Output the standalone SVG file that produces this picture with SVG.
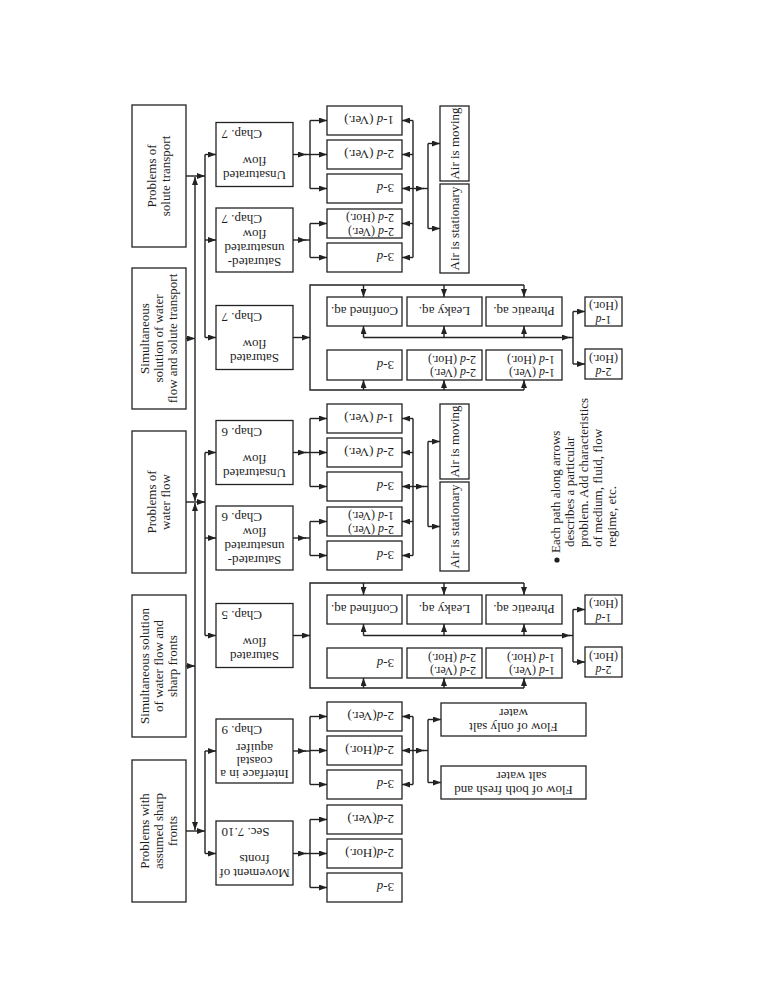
<svg xmlns="http://www.w3.org/2000/svg" width="772" height="1000" viewBox="0 0 772 1000">
<style>
.b{fill:#fff;stroke:#222;stroke-width:1.3}
.l{fill:none;stroke:#222;stroke-width:1.4}
.a{marker-end:url(#ah)}
text{font-family:"Liberation Serif","Times New Roman",serif;font-size:13px;fill:#1e1e1e}
.s{font-size:12px}
.m{text-anchor:middle}
.e{text-anchor:end}
.i{font-style:italic}
</style>
<defs>
<marker id="ah" viewBox="0 0 8 6" refX="8" refY="3" markerWidth="8" markerHeight="6" markerUnits="userSpaceOnUse" orient="auto"><path d="M0,0 L8,3 L0,6 z" fill="#222"/></marker>
</defs>
<rect x="0" y="0" width="772" height="1000" fill="#fff"/>

<!-- Top-level nodes -->
<g id="n-solute"><rect class="b" x="132" y="105" width="54" height="142"/><g transform="translate(159,176) rotate(-90)"><text class="m" y="-3">Problems of</text><text class="m" y="11">solute transport</text></g></g>
<g id="n-sim-ws"><rect class="b" x="132" y="268" width="54" height="141"/><g transform="translate(159,338.5) rotate(-90)"><text class="m" y="-10.5">Simultaneous</text><text class="m" y="3.5">solution of water</text><text class="m" y="17.5">flow and solute transport</text></g></g>
<g id="n-water"><rect class="b" x="132" y="431" width="54" height="142"/><g transform="translate(159,502) rotate(-90)"><text class="m" y="-3">Problems of</text><text class="m" y="11">water flow</text></g></g>
<g id="n-sim-wf"><rect class="b" x="132" y="595" width="54" height="142"/><g transform="translate(159,666) rotate(-90)"><text class="m" y="-10.5">Simultaneous solution</text><text class="m" y="3.5">of water flow and</text><text class="m" y="17.5">sharp fronts</text></g></g>
<g id="n-sharp"><rect class="b" x="132" y="760" width="54" height="142"/><g transform="translate(159,831) rotate(-90)"><text class="m" y="-10.5">Problems with</text><text class="m" y="3.5">assumed sharp</text><text class="m" y="17.5">fronts</text></g></g>

<!-- Second-level nodes -->
<g id="n-s-unsat"><rect class="b" x="216" y="122.5" width="77" height="64"/><g transform="translate(254.5,154.5) rotate(180)"><text class="m" y="-16">Unsaturated</text><text class="m" y="-2">flow</text><text class="e" x="33" y="25">Chap. 7</text></g></g>
<g id="n-s-satunsat"><rect class="b" x="216" y="208" width="77" height="64"/><g transform="translate(254.5,240) rotate(180)"><text class="m" y="-18">Saturated-</text><text class="m" y="-4">unsaturated</text><text class="m" y="10">flow</text><text class="e" x="33" y="25.5">Chap. 7</text></g></g>
<g id="n-s-sat"><rect class="b" x="216" y="305.5" width="77" height="64"/><g transform="translate(254.5,337.5) rotate(180)"><text class="m" y="-16">Saturated</text><text class="m" y="-2">flow</text><text class="e" x="33" y="25">Chap. 7</text></g></g>
<g id="n-w-unsat"><rect class="b" x="216" y="420.5" width="77" height="64"/><g transform="translate(254.5,452.5) rotate(180)"><text class="m" y="-16">Unsaturated</text><text class="m" y="-2">flow</text><text class="e" x="33" y="25">Chap. 6</text></g></g>
<g id="n-w-satunsat"><rect class="b" x="216" y="506" width="77" height="64"/><g transform="translate(254.5,538) rotate(180)"><text class="m" y="-18">Saturated-</text><text class="m" y="-4">unsaturated</text><text class="m" y="10">flow</text><text class="e" x="33" y="25.5">Chap. 6</text></g></g>
<g id="n-w-sat"><rect class="b" x="216" y="603.5" width="77" height="64"/><g transform="translate(254.5,635.5) rotate(180)"><text class="m" y="-16">Saturated</text><text class="m" y="-2">flow</text><text class="e" x="33" y="25">Chap. 5</text></g></g>
<g id="n-f-interface"><rect class="b" x="216" y="719" width="77" height="64"/><g transform="translate(254.5,751) rotate(180)"><text class="m" y="-19">Interface in a</text><text class="m" y="-6">coastal</text><text class="m" y="7">aquifer</text><text class="e" x="33" y="25.5">Chap. 9</text></g></g>
<g id="n-f-movement"><rect class="b" x="216" y="821" width="77" height="64"/><g transform="translate(254.5,853) rotate(180)"><text class="m" y="-16">Movement of</text><text class="m" y="-2">fronts</text><text class="e" x="33" y="25">Sec. 7.10</text></g></g>

<!-- Third-level: solute -->
<g id="n-s-u1"><rect class="b" x="327" y="106" width="75" height="29"/><g transform="translate(364.5,120.5) rotate(180)"><text x="-29.5" y="4.5">1-<tspan class="i">d</tspan> (Ver.)</text></g></g>
<g id="n-s-u2"><rect class="b" x="327" y="140" width="75" height="29"/><g transform="translate(364.5,154.5) rotate(180)"><text x="-29.5" y="4.5">2-<tspan class="i">d</tspan> (Ver.)</text></g></g>
<g id="n-s-u3"><rect class="b" x="327" y="174" width="75" height="29"/><g transform="translate(364.5,188.5) rotate(180)"><text x="-29.5" y="4.5">3-<tspan class="i">d</tspan></text></g></g>
<g id="n-s-su1"><rect class="b" x="327" y="209" width="75" height="29"/><g transform="translate(364.5,223.5) rotate(180)"><text class="s" x="-29.5" y="-4">2-<tspan class="i">d</tspan> (Ver.)</text><text class="s" x="-29.5" y="9.5">2-<tspan class="i">d</tspan> (Hor.)</text></g></g>
<g id="n-s-su2"><rect class="b" x="327" y="243" width="75" height="29"/><g transform="translate(364.5,257.5) rotate(180)"><text x="-29.5" y="4.5">3-<tspan class="i">d</tspan></text></g></g>
<g id="n-s-airm"><rect class="b" x="440" y="106" width="29" height="75"/><g transform="translate(454.5,143.5) rotate(-90)"><text class="m" y="4.3">Air is moving</text></g></g>
<g id="n-s-airs"><rect class="b" x="440" y="184" width="29" height="89"/><g transform="translate(454.5,228.5) rotate(-90)"><text class="m" y="4.3">Air is stationary</text></g></g>
<g id="n-s-conf"><rect class="b" x="327" y="297" width="75" height="29"/><g transform="translate(364.5,311.5) rotate(180)"><text class="m" y="4.5">Confined aq.</text></g></g>
<g id="n-s-leaky"><rect class="b" x="407" y="297" width="75" height="29"/><g transform="translate(444.5,311.5) rotate(180)"><text class="m" y="4.5">Leaky aq.</text></g></g>
<g id="n-s-phre"><rect class="b" x="486" y="297" width="76" height="29"/><g transform="translate(524,311.5) rotate(180)"><text class="m" y="4.5">Phreatic aq.</text></g></g>
<g id="n-s-3d"><rect class="b" x="327" y="350" width="75" height="30"/><g transform="translate(364.5,365) rotate(180)"><text x="-29.5" y="4.5">3-<tspan class="i">d</tspan></text></g></g>
<g id="n-s-2d"><rect class="b" x="407" y="350" width="75" height="30"/><g transform="translate(444.5,365) rotate(180)"><text class="s" x="-31.5" y="-4">2-<tspan class="i">d</tspan> (Ver.)</text><text class="s" x="-31.5" y="9.5">2-<tspan class="i">d</tspan> (Hor.)</text></g></g>
<g id="n-s-1d"><rect class="b" x="486" y="350" width="76" height="30"/><g transform="translate(524,365) rotate(180)"><text class="s" x="-31" y="-4">1-<tspan class="i">d</tspan> (Ver.)</text><text class="s" x="-31" y="9.5">1-<tspan class="i">d</tspan> (Hor.)</text></g></g>
<g id="n-s-h1"><rect class="b" x="585" y="297" width="37" height="29"/><g transform="translate(603.5,311.5) rotate(180)"><text class="m s" y="-4">1-<tspan class="i">d</tspan></text><text class="m s" y="9.5">(Hor.)</text></g></g>
<g id="n-s-h2"><rect class="b" x="585" y="349" width="37" height="30"/><g transform="translate(603.5,364) rotate(180)"><text class="m s" y="-4">2-<tspan class="i">d</tspan></text><text class="m s" y="9.5">(Hor.)</text></g></g>

<!-- Third-level: water -->
<g id="n-w-u1"><rect class="b" x="327" y="404" width="75" height="29"/><g transform="translate(364.5,418.5) rotate(180)"><text x="-29.5" y="4.5">1-<tspan class="i">d</tspan> (Ver.)</text></g></g>
<g id="n-w-u2"><rect class="b" x="327" y="438" width="75" height="29"/><g transform="translate(364.5,452.5) rotate(180)"><text x="-29.5" y="4.5">2-<tspan class="i">d</tspan> (Ver.)</text></g></g>
<g id="n-w-u3"><rect class="b" x="327" y="472" width="75" height="29"/><g transform="translate(364.5,486.5) rotate(180)"><text x="-29.5" y="4.5">3-<tspan class="i">d</tspan></text></g></g>
<g id="n-w-su1"><rect class="b" x="327" y="507" width="75" height="29"/><g transform="translate(364.5,521.5) rotate(180)"><text class="s" x="-29.5" y="-4">2-<tspan class="i">d</tspan> (Ver.)</text><text class="s" x="-29.5" y="9.5">1-<tspan class="i">d</tspan> (Ver.)</text></g></g>
<g id="n-w-su2"><rect class="b" x="327" y="541" width="75" height="29"/><g transform="translate(364.5,555.5) rotate(180)"><text x="-29.5" y="4.5">3-<tspan class="i">d</tspan></text></g></g>
<g id="n-w-airm"><rect class="b" x="440" y="404" width="29" height="75"/><g transform="translate(454.5,441.5) rotate(-90)"><text class="m" y="4.3">Air is moving</text></g></g>
<g id="n-w-airs"><rect class="b" x="440" y="482" width="29" height="89"/><g transform="translate(454.5,526.5) rotate(-90)"><text class="m" y="4.3">Air is stationary</text></g></g>
<g id="n-w-conf"><rect class="b" x="327" y="595" width="75" height="29"/><g transform="translate(364.5,609.5) rotate(180)"><text class="m" y="4.5">Confined aq.</text></g></g>
<g id="n-w-leaky"><rect class="b" x="407" y="595" width="75" height="29"/><g transform="translate(444.5,609.5) rotate(180)"><text class="m" y="4.5">Leaky aq.</text></g></g>
<g id="n-w-phre"><rect class="b" x="486" y="595" width="76" height="29"/><g transform="translate(524,609.5) rotate(180)"><text class="m" y="4.5">Phreatic aq.</text></g></g>
<g id="n-w-3d"><rect class="b" x="327" y="648" width="75" height="30"/><g transform="translate(364.5,663) rotate(180)"><text x="-29.5" y="4.5">3-<tspan class="i">d</tspan></text></g></g>
<g id="n-w-2d"><rect class="b" x="407" y="648" width="75" height="30"/><g transform="translate(444.5,663) rotate(180)"><text class="s" x="-31.5" y="-4">2-<tspan class="i">d</tspan> (Ver.)</text><text class="s" x="-31.5" y="9.5">2-<tspan class="i">d</tspan> (Hor.)</text></g></g>
<g id="n-w-1d"><rect class="b" x="486" y="648" width="76" height="30"/><g transform="translate(524,663) rotate(180)"><text class="s" x="-31" y="-4">1-<tspan class="i">d</tspan> (Ver.)</text><text class="s" x="-31" y="9.5">1-<tspan class="i">d</tspan> (Hor.)</text></g></g>
<g id="n-w-h1"><rect class="b" x="585" y="595" width="37" height="29"/><g transform="translate(603.5,609.5) rotate(180)"><text class="m s" y="-4">1-<tspan class="i">d</tspan></text><text class="m s" y="9.5">(Hor.)</text></g></g>
<g id="n-w-h2"><rect class="b" x="585" y="647" width="37" height="30"/><g transform="translate(603.5,662) rotate(180)"><text class="m s" y="-4">2-<tspan class="i">d</tspan></text><text class="m s" y="9.5">(Hor.)</text></g></g>

<!-- Third-level: sharp fronts -->
<g id="n-f-i1"><rect class="b" x="327" y="702" width="75" height="29"/><g transform="translate(364.5,716.5) rotate(180)"><text x="-29.5" y="4.5">2-<tspan class="i">d</tspan>(Ver.)</text></g></g>
<g id="n-f-i2"><rect class="b" x="327" y="736" width="75" height="29"/><g transform="translate(364.5,750.5) rotate(180)"><text x="-29.5" y="4.5">2-<tspan class="i">d</tspan>(Hor.)</text></g></g>
<g id="n-f-i3"><rect class="b" x="327" y="770" width="75" height="29"/><g transform="translate(364.5,784.5) rotate(180)"><text x="-29.5" y="4.5">3-<tspan class="i">d</tspan></text></g></g>
<g id="n-f-m1"><rect class="b" x="327" y="805" width="75" height="29"/><g transform="translate(364.5,819.5) rotate(180)"><text x="-29.5" y="4.5">2-<tspan class="i">d</tspan>(Ver.)</text></g></g>
<g id="n-f-m2"><rect class="b" x="327" y="839" width="75" height="29"/><g transform="translate(364.5,853.5) rotate(180)"><text x="-29.5" y="4.5">2-<tspan class="i">d</tspan>(Hor.)</text></g></g>
<g id="n-f-m3"><rect class="b" x="327" y="873" width="75" height="29"/><g transform="translate(364.5,887.5) rotate(180)"><text x="-29.5" y="4.5">3-<tspan class="i">d</tspan></text></g></g>
<g id="n-f-salt"><rect class="b" x="441" y="703" width="145" height="33"/><g transform="translate(513.5,719.5) rotate(180)"><text class="m" y="-3.5">Flow of only salt</text><text class="m" y="11">water</text></g></g>
<g id="n-f-both"><rect class="b" x="441" y="766" width="145" height="33"/><g transform="translate(513.5,782.5) rotate(180)"><text class="m" y="-3.5">Flow of both fresh and</text><text class="m" x="-8" y="11">salt water</text></g></g>

<!-- Note -->
<g id="note">
<circle cx="557" cy="560" r="2.6" fill="#1e1e1e"/>
<text transform="translate(560,553) rotate(-90)"><tspan x="0" y="0">Each path along arrows</tspan><tspan x="6" dy="14">describes a particular</tspan><tspan x="6" dy="14">problem. Add characteristics</tspan><tspan x="6" dy="14">of medium, fluid, flow</tspan><tspan x="6" dy="14">regime, etc.</tspan></text>
</g>

<!-- Connectors -->
<g id="connectors">
<path class="l a" d="M186,176 H205"/>
<path class="l a" d="M186,338.5 H195"/>
<path class="l a" d="M195,338.5 V177"/>
<path class="l a" d="M195,338.5 V501"/>
<path class="l a" d="M186,502 H205"/>
<path class="l a" d="M186,666 H195"/>
<path class="l a" d="M195,666 V503"/>
<path class="l a" d="M195,666 V830"/>
<path class="l a" d="M186,831 H205"/>

<path class="l" d="M205,154.5 V337.5"/>
<path class="l a" d="M205,154.5 H216"/>
<path class="l a" d="M205,240 H216"/>
<path class="l a" d="M205,337.5 H216"/>
<path class="l" d="M205,452.5 V635.5"/>
<path class="l a" d="M205,452.5 H216"/>
<path class="l a" d="M205,538 H216"/>
<path class="l a" d="M205,635.5 H216"/>
<path class="l" d="M205,751 V853.5"/>
<path class="l a" d="M205,751 H216"/>
<path class="l a" d="M205,853.5 H216"/>

<!-- solute -->
<path class="l a" d="M293,154.5 H306"/><path class="l" d="M305,154.5 H310"/>
<path class="l" d="M310,120.5 V188.5"/>
<path class="l a" d="M310,120.5 H327"/><path class="l a" d="M310,154.5 H327"/><path class="l a" d="M310,188.5 H327"/>
<path class="l a" d="M293,240 H306"/><path class="l" d="M305,240 H310"/>
<path class="l" d="M310,223.5 V257.5"/>
<path class="l a" d="M310,223.5 H327"/><path class="l a" d="M310,257.5 H327"/>
<path class="l a" d="M413,120.5 H402"/><path class="l a" d="M413,154.5 H402"/><path class="l a" d="M413,188.5 H402"/><path class="l a" d="M413,223.5 H402"/><path class="l a" d="M413,257.5 H402"/>
<path class="l" d="M413,120.5 V257.5"/>
<path class="l a" d="M413,188.5 H424"/><path class="l" d="M423,188.5 H428"/>
<path class="l" d="M428,143.5 V228.5"/>
<path class="l a" d="M428,143.5 H440"/><path class="l a" d="M428,228.5 H440"/>
<path class="l a" d="M293,337.5 H310"/>
<path class="l" d="M524,285 H310 V390 H524"/>
<path class="l a" d="M363.5,285 V297"/><path class="l a" d="M444,285 V297"/><path class="l a" d="M524,285 V297"/>
<path class="l a" d="M363.5,337.5 H570"/><path class="l" d="M569,337.5 H573"/>
<path class="l a" d="M363.5,337.5 V326"/><path class="l a" d="M444,337.5 V326"/><path class="l a" d="M524,337.5 V326"/>
<path class="l" d="M573,311.5 V364"/>
<path class="l a" d="M573,311.5 H585"/><path class="l a" d="M573,364 H585"/>
<path class="l a" d="M363.5,390 V380"/><path class="l a" d="M444,390 V380"/><path class="l a" d="M524,390 V380"/>

<!-- water -->
<path class="l a" d="M293,452.5 H306"/><path class="l" d="M305,452.5 H310"/>
<path class="l" d="M310,418.5 V486.5"/>
<path class="l a" d="M310,418.5 H327"/><path class="l a" d="M310,452.5 H327"/><path class="l a" d="M310,486.5 H327"/>
<path class="l a" d="M293,538 H306"/><path class="l" d="M305,538 H310"/>
<path class="l" d="M310,521.5 V555.5"/>
<path class="l a" d="M310,521.5 H327"/><path class="l a" d="M310,555.5 H327"/>
<path class="l a" d="M413,418.5 H402"/><path class="l a" d="M413,452.5 H402"/><path class="l a" d="M413,486.5 H402"/><path class="l a" d="M413,521.5 H402"/><path class="l a" d="M413,555.5 H402"/>
<path class="l" d="M413,418.5 V555.5"/>
<path class="l a" d="M413,486.5 H424"/><path class="l" d="M423,486.5 H428"/>
<path class="l" d="M428,441.5 V526.5"/>
<path class="l a" d="M428,441.5 H440"/><path class="l a" d="M428,526.5 H440"/>
<path class="l a" d="M293,635.5 H310"/>
<path class="l" d="M524,583 H310 V688 H524"/>
<path class="l a" d="M363.5,583 V595"/><path class="l a" d="M444,583 V595"/><path class="l a" d="M524,583 V595"/>
<path class="l a" d="M363.5,635.5 H570"/><path class="l" d="M569,635.5 H573"/>
<path class="l a" d="M363.5,635.5 V624"/><path class="l a" d="M444,635.5 V624"/><path class="l a" d="M524,635.5 V624"/>
<path class="l" d="M573,609.5 V662"/>
<path class="l a" d="M573,609.5 H585"/><path class="l a" d="M573,662 H585"/>
<path class="l a" d="M363.5,688 V678"/><path class="l a" d="M444,688 V678"/><path class="l a" d="M524,688 V678"/>

<!-- sharp fronts -->
<path class="l a" d="M293,751 H306"/><path class="l" d="M305,751 H310"/>
<path class="l" d="M310,716.5 V784.5"/>
<path class="l a" d="M310,716.5 H327"/><path class="l a" d="M310,750.5 H327"/><path class="l a" d="M310,784.5 H327"/>
<path class="l a" d="M293,853.5 H306"/><path class="l" d="M305,853.5 H310"/>
<path class="l" d="M310,819.5 V887.5"/>
<path class="l a" d="M310,819.5 H327"/><path class="l a" d="M310,853.5 H327"/><path class="l a" d="M310,887.5 H327"/>
<path class="l a" d="M413,716.5 H402"/><path class="l a" d="M413,750.5 H402"/><path class="l a" d="M413,784.5 H402"/>
<path class="l" d="M413,716.5 V784.5"/>
<path class="l a" d="M413,750.5 H424"/><path class="l" d="M423,750.5 H428"/>
<path class="l" d="M428,719.5 V782.5"/>
<path class="l a" d="M428,719.5 H441"/><path class="l a" d="M428,782.5 H441"/>
</g>
</svg>
